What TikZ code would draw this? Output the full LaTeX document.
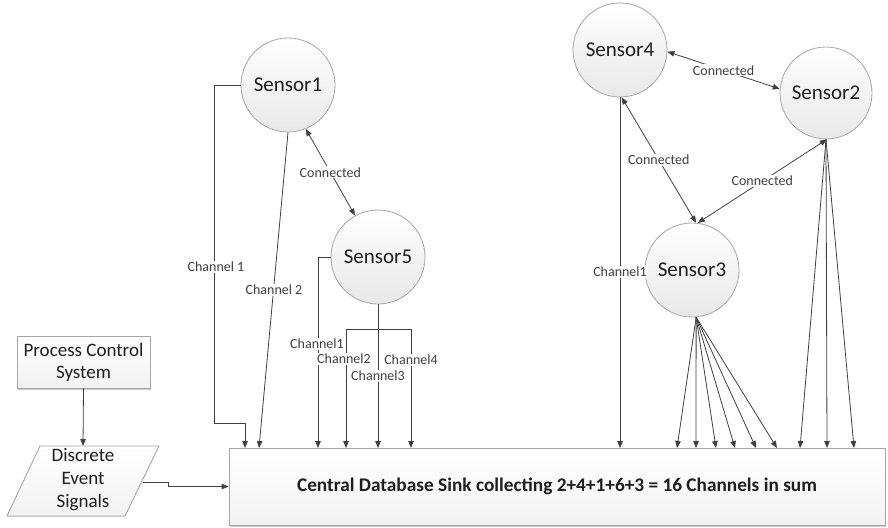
\documentclass[tikz,border=0pt]{standalone}
\usepackage{fontspec}
\setmainfont{Carlito}
\usetikzlibrary{arrows.meta,shadows,calc}
\definecolor{ln}{HTML}{3F3F3F}
\definecolor{rim}{HTML}{A6A6A6}
\definecolor{txt}{HTML}{1E1E1E}
\begin{document}
\begin{tikzpicture}[x=1pt,y=-1pt,
  sensor/.style={circle, draw=rim, line width=0.8pt, minimum size=94pt, inner sep=0pt,
    top color=white, bottom color=gray!18, text=txt, font=\fontsize{21}{24}\selectfont},
  boxed/.style={rectangle, draw=rim, line width=0.8pt, top color=white, bottom color=gray!10, text=txt},
  shade/.style={drop shadow={shadow xshift=1pt, shadow yshift=-2pt, fill=gray!70, opacity=0.6}},
  link/.style={draw=ln, line width=0.8pt},
  tip/.style={link, -{Triangle[length=7pt,width=5.5pt]}},
  both/.style={link, {Triangle[length=7pt,width=5.5pt]}-{Triangle[length=7pt,width=5.5pt]}},
  tag/.style={fill=white, inner sep=1pt, text=ln, font=\fontsize{14}{16}\selectfont},
]
\useasboundingbox (0,0) rectangle (888,527);

% sink box
\node[boxed, shade, minimum width=656pt, minimum height=77pt,
      font=\bfseries\fontsize{19.3}{22}\selectfont] (sink) at (557,486.5)
      {Central Database Sink collecting 2+4+1+6+3 = 16 Channels in sum};

% inlets on the top edge of the sink
\foreach \n/\x in {c1/245, c2/259, c3/318, c4/346, c5/378, c6/411,
                   d1/620, e1/677, e2/696, e3/716, e4/735, e5/756, e6/777,
                   f1/800, f2/827, f3/854}
  \coordinate (\n) at (\x,448);

% process control and event signals
\node[boxed, shade, minimum width=133pt, minimum height=52pt, align=center,
      font=\fontsize{19}{22}\selectfont] (pcs) at (83.5,362) {Process Control\\System};
\filldraw[draw=rim, line width=0.8pt, top color=white, bottom color=gray!10]
  (40,446) -- (159,446) -- (125,516) -- (7,516) -- cycle;
\node[align=center, text=txt, font=\fontsize{19}{23}\selectfont] (des) at (83,480)
  {Discrete\\Event\\Signals};
\coordinate (desTop) at (83,446);
\coordinate (desOut) at (143,482);

% sensors
\node[sensor] (s1) at (288,85) {Sensor1};
\node[sensor] (s5) at (378,257) {Sensor5};
\node[sensor] (s4) at (620,50) {Sensor4};
\node[sensor, minimum size=92pt] (s2) at (826,93) {Sensor2};
\node[sensor] (s3) at (692,270) {Sensor3};

% connectors into the sink
\draw[tip] (pcs.south) -- (desTop);
\draw[tip] (desOut) -- ++(25,0) |- (sink.west);

\draw[tip] (s1.west) -- ++(-26,0) |- ($(c1)+(0,-25)$) -- (c1);
\draw[tip] (s1.south) -- (c2);

\draw[tip] (s5.west) -| (c3);
\draw[link] (s5.south) -- (378,329) coordinate (j5);
\draw[link] (346,329) coordinate (j4) -- (411,329) coordinate (j6);
\draw[tip] (j4) -- (c4);
\draw[tip] (j5) -- (c5);
\draw[tip] (j6) -- (c6);

\draw[tip] (s4.south) -- (d1);
\foreach \n in {e1,e2,e3,e4,e5,e6} \draw[tip] (s3.-85) -- (\n);
\foreach \n in {f1,f2,f3} \draw[tip] (s2.south) -- (\n);

% links between sensors
\draw[both] (s1.-68) -- (s5.119) node[tag, midway] (k15) {Connected};
\draw[both] (s4.-2) -- (s2.175) node[tag, midway] (k42) {Connected};
\draw[both] (s4.-88) -- (s3.85) node[tag, midway] (k43) {Connected};
\draw[both] (s2.-89) -- (s3.83) node[tag, midway] (k23) {Connected};

% channel labels
\node[tag] (t1) at (216,267) {Channel 1};
\node[tag] (t2) at (274,290) {Channel 2};
\node[tag] (t3) at (317,344) {Channel1};
\node[tag] (t4) at (344,359) {Channel2};
\node[tag] (t5) at (378,376) {Channel3};
\node[tag] (t6) at (411,360) {Channel4};
\node[tag] (t7) at (620,272) {Channel1};
\end{tikzpicture}
\end{document}
